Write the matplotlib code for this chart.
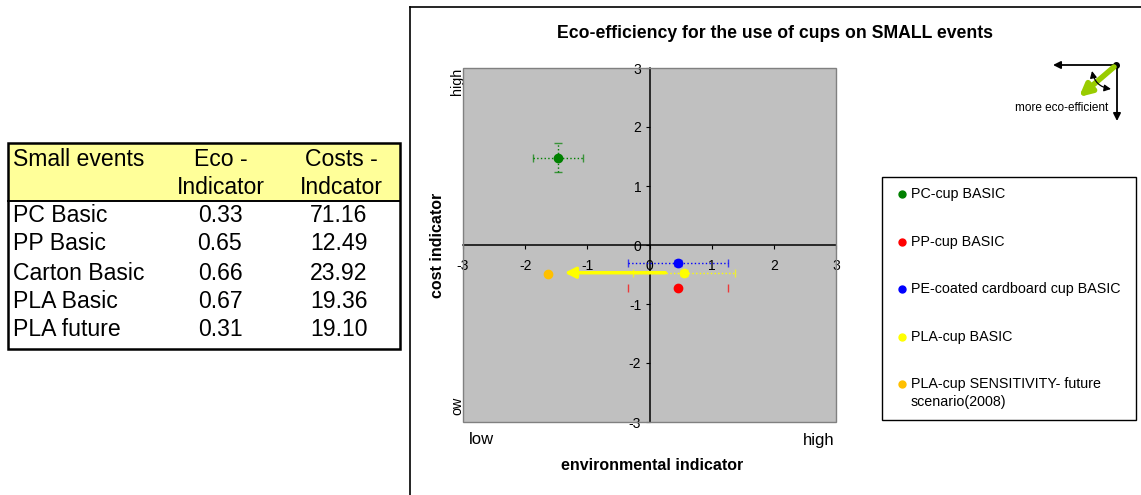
import matplotlib
matplotlib.use('Agg')
import matplotlib.pyplot as plt
from matplotlib.patches import Rectangle

plt.rcParams['font.family'] = ['Liberation Sans', 'DejaVu Sans']
plt.rcParams['axes.unicode_minus'] = False

# ============================================================================
# DATOS
# ============================================================================

# tabla de la izquierda
tabla_cabecera = ['Small events', 'Eco -\nIndicator', 'Costs -\nIndcator']
tabla_filas = ['PC Basic', 'PP Basic', 'Carton Basic', 'PLA Basic', 'PLA future']
tabla_eco = ['0.33', '0.65', '0.66', '0.67', '0.31']
tabla_costes = ['71.16', '12.49', '23.92', '19.36', '19.10']

# gráfico de eco-eficiencia
series = ['PC-cup BASIC', 'PP-cup BASIC', 'PE-coated cardboard cup BASIC',
          'PLA-cup BASIC', 'PLA-cup SENSITIVITY- future\nscenario(2008)']
colores = ['#008000', '#ff0000', '#0000ff', '#ffff00', '#ffc000']
eco_x = [-1.47, 0.46, 0.46, 0.55, -1.64]
coste_y = [1.48, -0.73, -0.30, -0.47, -0.49]
err_x = [0.40, 0.80, 0.80, 0.82, None]
err_y = [0.25, None, 0.05, 0.05, None]

flecha_desde = (0.30, -0.47)
flecha_hasta = (-1.41, -0.47)
ticks = [-3, -2, -1, 0, 1, 2, 3]

W, H = 1141, 495

fig = plt.figure(figsize=(W / 100, H / 100), dpi=100)
fig.patch.set_facecolor('white')

# capa de fondo en pixeles (tabla, marco, leyenda, icono)
bg = fig.add_axes([0, 0, 1, 1])
bg.set_xlim(0, W)
bg.set_ylim(H, 0)
bg.axis('off')
bg.patch.set_alpha(0)

# ---- tabla
bg.add_patch(Rectangle((8, 143), 392, 58, facecolor='#ffff99', edgecolor='none'))
bg.add_patch(Rectangle((8, 143), 392, 206, facecolor='none', edgecolor='black', lw=1.8))
bg.plot([8, 400], [201, 201], color='black', lw=1.4)
tfont = 16.6
bg.text(13, 159, tabla_cabecera[0], fontsize=tfont, va='center', ha='left')
for cx, txt in [(221, tabla_cabecera[1]), (341, tabla_cabecera[2])]:
    l1, l2 = txt.split('\n')
    bg.text(cx, 159, l1, fontsize=tfont, va='center', ha='center')
    bg.text(cx, 187, l2, fontsize=tfont, va='center', ha='center')
filas_y = [216, 244, 273, 302, 330]
for yy, nombre, e, c in zip(filas_y, tabla_filas, tabla_eco, tabla_costes):
    bg.text(13, yy, nombre, fontsize=tfont, va='center', ha='left')
    bg.text(220, yy, e, fontsize=tfont, va='center', ha='center')
    bg.text(339, yy, c, fontsize=tfont, va='center', ha='center')

# ---- marco del gráfico
bg.plot([410, 410], [7, H], color='black', lw=1.2)
bg.plot([410, W], [7, 7], color='black', lw=1.2)

bg.text(775, 33, 'Eco-efficiency for the use of cups on SMALL events',
        fontsize=12.7, fontweight='bold', ha='center', va='center')

# ---- leyenda
bg.add_patch(Rectangle((882, 177), 254, 243, facecolor='white', edgecolor='black', lw=1.0))
leyenda_y = [194, 242, 289, 337, 384]
lfont = 10.3
for yy, nom, col in zip(leyenda_y, series, colores):
    bg.plot(902, yy, 'o', color=col, markersize=5)
    lineas = nom.split('\n')
    for k, linea in enumerate(lineas):
        bg.text(911, yy + 18 * k, linea, fontsize=lfont, va='center', ha='left')

# ---- icono "more eco-efficient"
bg.annotate('', xy=(1053, 65), xytext=(1117, 65),
            arrowprops=dict(arrowstyle='-|>', color='black', lw=1.3, mutation_scale=11,
                            shrinkA=0, shrinkB=0))
bg.annotate('', xy=(1117, 121), xytext=(1117, 65),
            arrowprops=dict(arrowstyle='-|>', color='black', lw=1.3, mutation_scale=11,
                            shrinkA=0, shrinkB=0))
bg.annotate('', xy=(1079, 97), xytext=(1114, 67),
            arrowprops=dict(arrowstyle='-|>', color='#99cc00', lw=4, mutation_scale=18,
                            shrinkA=0, shrinkB=0))
bg.annotate('', xy=(1111, 89), xytext=(1092, 71),
            arrowprops=dict(arrowstyle='<|-|>', color='black', lw=0.9, mutation_scale=10,
                            shrinkA=0, shrinkB=0, connectionstyle='arc3,rad=0.35'))
bg.plot(1116, 65, 'o', color='black', markersize=4)
bg.text(1062, 108, 'more eco-efficient', fontsize=8.5, ha='center', va='center')

# ---- textos de ejes
bg.text(437, 245, 'cost indicator', fontsize=11.5, fontweight='bold', rotation=90,
        ha='center', va='center')
bg.text(652, 466, 'environmental indicator', fontsize=11.5, fontweight='bold',
        ha='center', va='center')
bg.text(481, 440, 'low', fontsize=12, ha='center', va='center')
bg.text(819, 440, 'high', fontsize=12, ha='center', va='center')
bg.text(457, 81, 'high', fontsize=10.3, rotation=90, ha='center', va='center')
bg.text(457, 406, 'ow', fontsize=10.3, rotation=90, ha='center', va='center')

# ============================================================================
# GRÁFICO
# ============================================================================
ax = fig.add_axes([463 / W, 1 - 422 / H, 373 / W, 354 / H])
ax.set_facecolor('#c0c0c0')
ax.set_xlim(-3, 3)
ax.set_ylim(-3, 3)
for s in ['top', 'right']:
    ax.spines[s].set_visible(False)
ax.spines['left'].set_position('zero')
ax.spines['bottom'].set_position('zero')
ax.spines['left'].set_linewidth(1.1)
ax.spines['bottom'].set_linewidth(1.1)
ax.add_patch(Rectangle((0, 0), 1, 1, transform=ax.transAxes, facecolor='none',
                       edgecolor='#808080', lw=1.0, zorder=5, clip_on=False))
ax.set_xticks(ticks)
ax.set_yticks(ticks)
ax.tick_params(axis='x', direction='out', length=3, pad=7, labelsize=10)
ax.tick_params(axis='y', direction='out', length=3, pad=3, labelsize=10)

for i in range(len(series)):
    eb = ax.errorbar(eco_x[i], coste_y[i], xerr=err_x[i], yerr=err_y[i],
                     fmt='o', color=colores[i], markersize=6, ecolor=colores[i],
                     elinewidth=1.0, capsize=3, capthick=1.0, zorder=4)
    for lc in eb[2]:
        lc.set_linestyle(':')
    for cap in eb[1]:
        cap.set_alpha(0.7)
    if i == 1:
        for lc in eb[2]:
            lc.set_visible(False)

ax.annotate('', xy=flecha_hasta, xytext=flecha_desde,
            arrowprops=dict(arrowstyle='-|>', color='#ffff00', lw=2.5,
                            mutation_scale=16), zorder=3)

fig.savefig('out.png', dpi=100)
